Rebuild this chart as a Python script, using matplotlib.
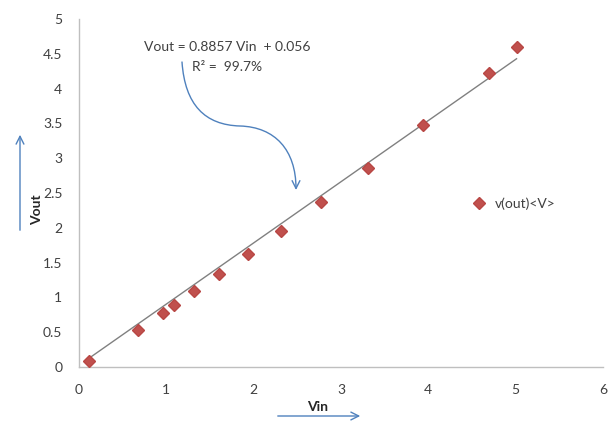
import numpy as np
import matplotlib
matplotlib.use("Agg")
import matplotlib.pyplot as plt
from matplotlib.path import Path
from matplotlib.patches import FancyArrowPatch

vin = [0.12, 0.67, 0.96, 1.09, 1.32, 1.60, 1.93, 2.31, 2.77, 3.31, 3.94, 4.69, 5.01]
vout = [0.09, 0.53, 0.77, 0.89, 1.09, 1.34, 1.62, 1.96, 2.37, 2.86, 3.47, 4.22, 4.60]
trend_slope = 0.879
trend_intercept = 0.025
x_ticks = [0, 1, 2, 3, 4, 5, 6]
y_ticks = [0, 0.5, 1, 1.5, 2, 2.5, 3, 3.5, 4, 4.5, 5]
y_tick_labels = ["0", "0.5", "1", "1.5", "2", "2.5", "3", "3.5", "4", "4.5", "5"]
series_name = "v(out)<V>"
eq_text = "Vout = 0.8857 Vin  + 0.056"
r2_text = "R² =  99.7%"

plt.rcParams['font.family'] = ['Lato', 'DejaVu Sans']

W, H = 609, 422
fig = plt.figure(figsize=(W / 100, H / 100), dpi=100)
ax = fig.add_axes([79 / W, 1 - 367 / H, (603 - 79) / W, (367 - 19) / H])

# trendline
xs = np.array([min(vin), max(vin)])
ax.plot(xs, trend_slope * xs + trend_intercept, color='#808080', lw=1.0, zorder=2)

ax.plot(vin, vout, linestyle='none', marker='D', ms=6.5, color='#c0504d',
        markeredgecolor='#b84744', zorder=3, label=series_name)

ax.set_xlim(0, 6)
ax.set_ylim(0, 5)
ax.set_xticks(x_ticks)
ax.set_yticks(y_ticks)
ax.set_yticklabels(y_tick_labels)
for s in ['top', 'right']:
    ax.spines[s].set_visible(False)
for s in ['left', 'bottom']:
    ax.spines[s].set_color('#bfbfbf')
    ax.spines[s].set_linewidth(1.0)
ax.tick_params(axis='both', length=0, labelsize=10, labelcolor='#404040')
ax.tick_params(axis='x', pad=12)
ax.tick_params(axis='y', pad=12)

leg = ax.legend(loc='center left', bbox_to_anchor=((471 - 79) / (603 - 79), (367 - 204) / (367 - 19)),
                frameon=False, fontsize=10, handletextpad=0.5, handlelength=1.2,
                borderaxespad=0, borderpad=0)
for t in leg.get_texts():
    t.set_color('#404040')

def fx(px):
    return px / W

def fy(py):
    return 1 - py / H

fig.text(fx(227), fy(47), eq_text, ha='center', va='center', fontsize=10, color='#404040')
fig.text(fx(227), fy(67), r2_text, ha='center', va='center', fontsize=10, color='#404040')

blue = '#4f81bd'
pts = [(182, 62), (185, 105), (205, 125), (240, 126), (275, 127), (296, 150), (296, 190)]
verts = [(fx(a), fy(b)) for a, b in pts]
codes = [Path.MOVETO] + [Path.CURVE4] * 6
arr = FancyArrowPatch(path=Path(verts, codes), arrowstyle='->', mutation_scale=14,
                      color=blue, lw=1.0, transform=fig.transFigure)
fig.patches.append(arr)

fig.text(fx(37), fy(210), 'Vout', rotation=90, ha='center', va='center',
         fontsize=10, fontweight='bold', color='#262626')
fig.patches.append(FancyArrowPatch((fx(20), fy(233)), (fx(20), fy(132)), arrowstyle='->',
                                   mutation_scale=14, color=blue, lw=1.0, transform=fig.transFigure))
fig.text(fx(318), fy(407), 'Vin', ha='center', va='center',
         fontsize=10, fontweight='bold', color='#262626')
fig.patches.append(FancyArrowPatch((fx(275), fy(416)), (fx(363), fy(416)), arrowstyle='->',
                                   mutation_scale=14, color=blue, lw=1.0, transform=fig.transFigure))

fig.savefig('out.png', dpi=100)
